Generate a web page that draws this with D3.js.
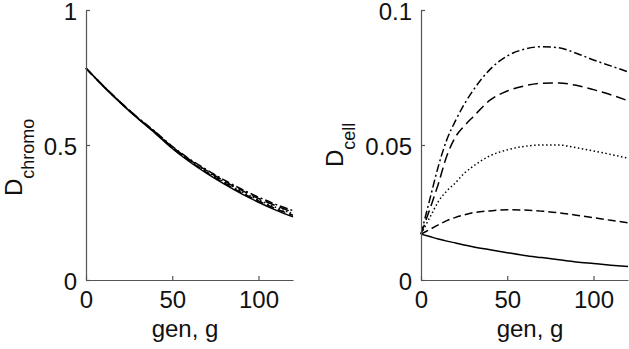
<!DOCTYPE html>
<html><head><meta charset="utf-8">
<script src="https://cdn.jsdelivr.net/npm/d3@7"></script>
<style>
html,body{margin:0;padding:0;background:#fff;}
svg{display:block;}
text{font-family:"Liberation Sans",Arial,sans-serif;fill:#111;}
</style></head>
<body>
<svg id="chart" width="629" height="349"></svg>
<script>
// ---------- data ----------
const gensLeft = [0,10,20,30,40,50,60,70,80,90,100,110,120];
const chromoSolid    = [0.784,0.718,0.656,0.598,0.544,0.487,0.438,0.395,0.356,0.320,0.288,0.259,0.234];
const chromoDashS    = [0.784,0.718,0.657,0.599,0.546,0.489,0.441,0.398,0.360,0.324,0.293,0.264,0.240];
const chromoDotted   = [0.784,0.719,0.657,0.600,0.547,0.491,0.443,0.401,0.364,0.328,0.297,0.269,0.246];
const chromoDashL    = [0.784,0.719,0.658,0.601,0.549,0.493,0.446,0.405,0.367,0.333,0.302,0.275,0.251];
const chromoDashDot  = [0.784,0.719,0.658,0.602,0.550,0.495,0.448,0.408,0.371,0.337,0.307,0.280,0.257];

const gensRight = [0,5,10,15,20,25,30,40,50,60,70,80,90,100,110,120];
const cellSolid   = [0.0170,0.0161,0.0152,0.0144,0.0137,0.0130,0.0123,0.0112,0.0101,0.0091,0.0083,0.0075,0.0067,0.0061,0.0055,0.0050];
const cellDashS   = [0.0170,0.0187,0.0204,0.0220,0.0232,0.0241,0.0249,0.0256,0.0260,0.0259,0.0255,0.0249,0.0240,0.0231,0.0221,0.0212];
const cellDotted  = [0.0170,0.0230,0.0290,0.0330,0.0360,0.0395,0.0420,0.0460,0.0482,0.0495,0.0500,0.0500,0.0490,0.0478,0.0465,0.0451];
const cellDashL   = [0.0170,0.0260,0.0355,0.0460,0.0530,0.0570,0.0603,0.0666,0.0700,0.0719,0.0729,0.0730,0.0721,0.0705,0.0686,0.0664];
const cellDashDot = [0.0170,0.0296,0.0420,0.0520,0.0590,0.0650,0.0700,0.0780,0.0830,0.0855,0.0864,0.0860,0.0840,0.0815,0.0793,0.0771];

const xTicks = [0,50,100];
const xTickLabels = ["0","50","100"];
const yTicksLeft = [0,0.5,1];
const yTickLabelsLeft = ["0","0.5","1"];
const yTicksRight = [0,0.05,0.1];
const yTickLabelsRight = ["0","0.05","0.1"];

const styles = ["solid","dashS","dotted","dashL","dashdot"];
const dashArrays = {solid:null, dashS:"8,4", dotted:"1.5,2.5", dashL:"10,5", dashdot:"8,3,2,3"};

// ---------- drawing ----------
const svg = d3.select("#chart");

function panel(opts){
  const x = d3.scaleLinear().domain([0,120]).range(opts.xr);
  const y = d3.scaleLinear().domain(opts.ydom).range([280,10]);
  const g = svg.append("g");

  const line = d3.line().x((d)=>x(d[0])).y((d)=>y(d[1])).curve(d3.curveMonotoneX);
  opts.series.forEach((vals,i)=>{
    const pts = opts.gens.map((gg,j)=>[gg,vals[j]]);
    g.append("path").datum(pts)
      .attr("d",line)
      .attr("fill","none")
      .attr("stroke","#000")
      .attr("stroke-width",1.5)
      .attr("stroke-dasharray",dashArrays[styles[i]]);
  });

  const xAxis = d3.axisBottom(x).tickValues(xTicks)
    .tickFormat((d,i)=>xTickLabels[i]).tickSizeInner(-4).tickSizeOuter(0).tickPadding(11);
  const yAxis = d3.axisLeft(y).tickValues(opts.yticks)
    .tickFormat((d,i)=>opts.ylabels[i]).tickSizeInner(-4).tickSizeOuter(0).tickPadding(9);

  const gx = g.append("g").attr("transform","translate(0,280)").call(xAxis);
  const gy = g.append("g").attr("transform",`translate(${opts.xr[0]},0)`).call(yAxis);
  [gx,gy].forEach(a=>{
    a.selectAll("path,line").attr("stroke","#555").attr("stroke-width",1.2);
    a.selectAll("text").attr("font-size",24).attr("fill","#111")
      .attr("font-family","'Liberation Sans', Arial, sans-serif");
  });
  gy.selectAll("text").attr("dy","0.38em");

  // x label
  g.append("text").attr("x",opts.xlabX).attr("y",337)
    .attr("text-anchor","middle").attr("font-size",24).text("gen, g");

  // y label with subscript
  const yl = g.append("text")
    .attr("transform",`translate(${opts.ylab[0]},${opts.ylab[1]}) rotate(-90)`)
    .attr("font-size",24);
  yl.append("tspan").text("D");
  yl.append("tspan").attr("font-size",18).attr("dy",12).text(opts.sub);
}

panel({
  xr:[86,293], ydom:[0,1], gens:gensLeft,
  series:[chromoSolid,chromoDashS,chromoDotted,chromoDashL,chromoDashDot],
  yticks:yTicksLeft, ylabels:yTickLabelsLeft,
  xlabX:185, ylab:[22,196], sub:"chromo"
});
panel({
  xr:[421,628], ydom:[0,0.1], gens:gensRight,
  series:[cellSolid,cellDashS,cellDotted,cellDashL,cellDashDot],
  yticks:yTicksRight, ylabels:yTickLabelsRight,
  xlabX:530, ylab:[343,167], sub:"cell"
});
</script>
</body></html>
